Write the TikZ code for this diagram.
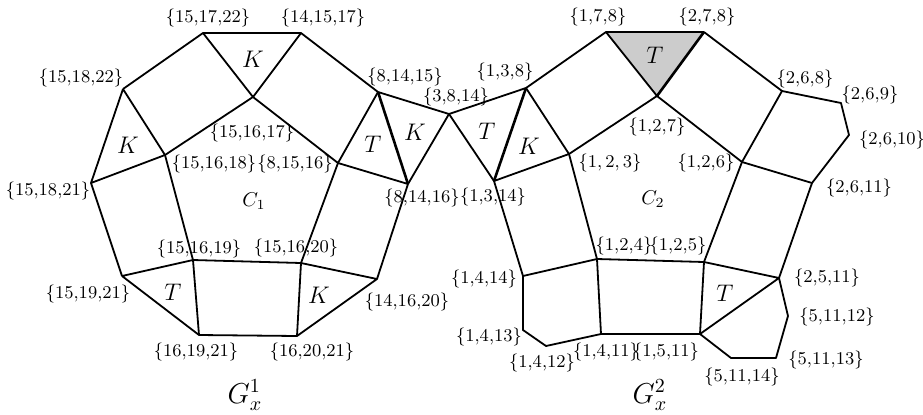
\documentclass[tikz,border=0pt]{standalone}
\usepackage{tikz}
\usetikzlibrary{calc}
\tikzset{
  edge/.style={
    line width=0.9pt,
    line join=round
  },
  heavy/.style={
    line width=1.3pt,
    line join=round
  },
  shaded/.style={
    fill=gray!40
  },
  vlabel/.style={font=\small, inner sep=0pt},
  cyclelabel/.style={font=\normalsize, inner sep=0pt},
  facelabel/.style={font=\large, inner sep=0pt},
  graphname/.style={font=\Large, inner sep=0pt}
}

\begin{document}
\begin{tikzpicture}[x=0.5pt, y=-0.5pt]
  \useasboundingbox (0,0) rectangle (923,414);

  % G_x^1
  \coordinate (v15-17-22) at (203,33);
  \coordinate (v14-15-17) at (301,33);
  \coordinate (v15-18-22) at (123,89);
  \coordinate (v15-16-17) at (253,97);
  \coordinate (v15-16-18) at (165,155);
  \coordinate (v15-18-21) at (91,183);
  \coordinate (v8-14-15) at (378,92);
  \coordinate (v8-15-16) at (338,163);
  \coordinate (v8-14-16) at (408,184);
  \coordinate (v3-8-14) at (449,114);
  \coordinate (v15-16-19) at (193,260);
  \coordinate (v15-16-20) at (301,263);
  \coordinate (v15-19-21) at (122,276);
  \coordinate (v16-19-21) at (199,335);
  \coordinate (v16-20-21) at (297,336);
  \coordinate (v14-16-20) at (377,279);

  % G_x^2
  \coordinate (v1-7-8) at (606,32);
  \coordinate (v2-7-8) at (704,32);
  \coordinate (v1-3-8) at (526,88);
  \coordinate (v1-2-7) at (657,96);
  \coordinate (v1-2-3) at (569,154);
  \coordinate (v1-3-14) at (494,181);
  \coordinate (v2-6-8) at (782,91);
  \coordinate (v2-6-9) at (841,103);
  \coordinate (v2-6-10) at (849,135);
  \coordinate (v2-6-11) at (812,183);
  \coordinate (v1-2-6) at (742,162);
  \coordinate (v1-2-4) at (597,259);
  \coordinate (v1-2-5) at (704,262);
  \coordinate (v1-4-14) at (523,276);
  \coordinate (v1-4-13) at (523,330);
  \coordinate (v1-4-12) at (546,346);
  \coordinate (v1-4-11) at (601,334);
  \coordinate (v1-5-11) at (700,334);
  \coordinate (v2-5-11) at (779,278);
  \coordinate (v5-11-12) at (788,316);
  \coordinate (v5-11-13) at (776,358);
  \coordinate (v5-11-14) at (731,358);

  \fill[shaded] (v1-7-8) -- (v2-7-8) -- (v1-2-7) -- cycle;

  % edges of G_x^1
  \draw[edge] (v15-18-22) -- (v15-17-22) -- (v14-15-17) -- (v8-14-15) -- (v3-8-14) -- (v8-14-16);
  \draw[edge] (v15-17-22) -- (v15-16-17) -- (v14-15-17);
  \draw[edge] (v15-18-22) -- (v15-18-21) -- (v15-16-18) -- (v15-18-22);
  \draw[edge] (v15-16-18) -- (v15-16-17) -- (v8-15-16) -- (v8-14-15);
  \draw[heavy] (v8-14-15) -- (v8-14-16);
  \draw[edge] (v8-15-16) -- (v8-14-16);
  \draw[edge] (v15-16-18) -- (v15-16-19);
  \draw[edge] (v15-18-21) -- (v15-19-21);
  \draw[edge] (v8-15-16) -- (v15-16-20);
  \draw[edge] (v8-14-16) -- (v14-16-20);
  \draw[edge] (v15-19-21) -- (v15-16-19) -- (v15-16-20) -- (v14-16-20) -- (v16-20-21) -- (v16-19-21) -- (v15-19-21);
  \draw[edge] (v15-16-19) -- (v16-19-21);
  \draw[edge] (v15-16-20) -- (v16-20-21);

  % edges of G_x^2
  \draw[edge] (v3-8-14) -- (v1-3-8) -- (v1-7-8) -- (v2-7-8);
  \draw[edge] (v3-8-14) -- (v1-3-14) -- (v1-2-3) -- (v1-3-8);
  \draw[heavy] (v1-3-8) -- (v1-3-14);
  \draw[edge] (v1-7-8) -- (v1-2-7) -- (v1-2-3);
  \draw[heavy] (v2-7-8) -- (v1-2-7);
  \draw[edge] (v1-2-7) -- (v1-2-6) -- (v2-6-8) -- (v2-7-8);
  \draw[edge] (v2-6-8) -- (v2-6-9) -- (v2-6-10) -- (v2-6-11) -- (v1-2-6);
  \draw[edge] (v1-2-3) -- (v1-2-4);
  \draw[edge] (v1-3-14) -- (v1-4-14);
  \draw[edge] (v1-2-6) -- (v1-2-5);
  \draw[edge] (v2-6-11) -- (v2-5-11);
  \draw[edge] (v1-4-14) -- (v1-2-4) -- (v1-2-5) -- (v2-5-11) -- (v1-5-11) -- (v1-4-11) -- (v1-2-4);
  \draw[edge] (v1-4-14) -- (v1-4-13) -- (v1-4-12) -- (v1-4-11);
  \draw[edge] (v1-2-5) -- (v1-5-11);
  \draw[edge] (v2-5-11) -- (v5-11-12) -- (v5-11-13) -- (v5-11-14) -- (v1-5-11);

  % vertex labels
  \node[vlabel] (l15-17-22) at (208,18) {\{15,17,22\}};
  \node[vlabel] (l14-15-17) at (323,18) {\{14,15,17\}};
  \node[vlabel] (l15-18-22) at (81,78) {\{15,18,22\}};
  \node[vlabel] (l15-18-21) at (48,191) {\{15,18,21\}};
  \node[vlabel] (l15-16-17) at (252,133) {\{15,16,17\}};
  \node[vlabel] (l15-16-18) at (214,164) {\{15,16,18\}};
  \node[vlabel] (l8-15-16) at (295,164) {\{8,15,16\}};
  \node[vlabel] (l8-14-15) at (405,77) {\{8,14,15\}};
  \node[vlabel] (l3-8-14) at (456,97) {\{3,8,14\}};
  \node[vlabel] (l8-14-16) at (422,198) {\{8,14,16\}};
  \node[vlabel] (l15-16-19) at (199,249) {\{15,16,19\}};
  \node[vlabel] (l15-16-20) at (296,248) {\{15,16,20\}};
  \node[vlabel] (l15-19-21) at (88,294) {\{15,19,21\}};
  \node[vlabel] (l16-19-21) at (196,352) {\{16,19,21\}};
  \node[vlabel] (l16-20-21) at (312,352) {\{16,20,21\}};
  \node[vlabel] (l14-16-20) at (407,302) {\{14,16,20\}};

  \node[vlabel] (l1-7-8) at (598,17) {\{1,7,8\}};
  \node[vlabel] (l2-7-8) at (707,17) {\{2,7,8\}};
  \node[vlabel] (l1-3-8) at (505,72) {\{1,3,8\}};
  \node[vlabel] (l1-2-7) at (657,127) {\{1,2,7\}};
  \node[vlabel] (l1-2-3) at (610,163) {$\{1,2,3\}$};
  \node[vlabel] (l1-3-14) at (493,197) {\{1,3,14\}};
  \node[vlabel] (l2-6-8) at (805,79) {\{2,6,8\}};
  \node[vlabel] (l2-6-9) at (870,95) {\{2,6,9\}};
  \node[vlabel] (l2-6-10) at (892,140) {\{2,6,10\}};
  \node[vlabel] (l1-2-6) at (706,163) {\{1,2,6\}};
  \node[vlabel] (l2-6-11) at (859,188) {\{2,6,11\}};
  \node[vlabel] (l1-2-4) at (624,246) {\{1,2,4\}};
  \node[vlabel] (l1-2-5) at (678,246) {\{1,2,5\}};
  \node[vlabel] (l1-4-14) at (484,279) {\{1,4,14\}};
  \node[vlabel] (l1-4-13) at (489,337) {\{1,4,13\}};
  \node[vlabel] (l1-4-12) at (542,363) {\{1,4,12\}};
  \node[vlabel] (l1-4-11) at (606,352) {\{1,4,11\}};
  \node[vlabel] (l1-5-11) at (666,352) {\{1,5,11\}};
  \node[vlabel] (l2-5-11) at (827,278) {\{2,5,11\}};
  \node[vlabel] (l5-11-12) at (837,317) {\{5,11,12\}};
  \node[vlabel] (l5-11-13) at (826,360) {\{5,11,13\}};
  \node[vlabel] (l5-11-14) at (742,377) {\{5,11,14\}};

  % faces and graph names
  \node[facelabel] (k1) at (253,59) {$K$};
  \node[facelabel] (k2) at (128,145) {$K$};
  \node[facelabel] (t1) at (373,144) {$T$};
  \node[facelabel] (k3) at (415,132) {$K$};
  \node[facelabel] (t2) at (173,292) {$T$};
  \node[facelabel] (k4) at (319,295) {$K$};
  \node[cyclelabel] (c1) at (254,201) {$C_1$};
  \node[graphname] (g1) at (245,395) {$G_x^1$};

  \node[facelabel] (t3) at (655,55) {$T$};
  \node[facelabel] (t4) at (487,131) {$T$};
  \node[facelabel] (k5) at (529,146) {$K$};
  \node[cyclelabel] (c2) at (653,199) {$C_2$};
  \node[facelabel] (t5) at (725,293) {$T$};
  \node[graphname] (g2) at (650,395) {$G_x^2$};
\end{tikzpicture}
\end{document}
